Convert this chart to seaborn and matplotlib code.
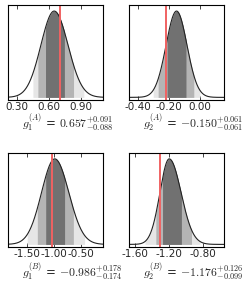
import numpy as np
import pandas as pd
import matplotlib
matplotlib.use("Agg")
import matplotlib.pyplot as plt
import seaborn as sns

# posterior summaries
names = ["g_1^{(A)}", "g_2^{(A)}", "g_1^{(B)}", "g_2^{(B)}"]
medians = [0.657, -0.150, -0.986, -1.176]
err_hi = [0.091, 0.061, 0.178, 0.126]
err_lo = [0.088, 0.061, 0.174, 0.099]
truths = [0.71, -0.22, -1.05, -1.30]
peaks = [0.652, -0.150, -0.990, -1.195]
# widths of the smoothed density curve (left, right)
curve_lo = [0.125, 0.067, 0.245, 0.110]
curve_hi = [0.130, 0.067, 0.260, 0.140]
# credible band edges (1, 2, 3 sigma)
band1 = [(0.569, 0.748), (-0.211, -0.089), (-1.160, -0.808), (-1.275, -1.050)]
band2 = [(0.498, 0.834), (-0.268, -0.039), (-1.313, -0.644), (-1.355, -0.930)]
band3 = [(0.451, 0.932), (-0.300, 0.000), (-1.500, -0.438), (-1.482, -0.832)]
tick_vals = [
    [0.30, 0.60, 0.90],
    [-0.40, -0.20, 0.00],
    [-1.50, -1.00, -0.50],
    [-1.60, -1.20, -0.80],
]

sns.set_style("ticks")
plt.rcParams["font.family"] = ["DejaVu Sans"]
plt.rcParams["mathtext.fontset"] = "cm"

band_colors = ["#e6e6e6", "#b4b4b4", "#717171"]


def split_normal(x, m, lo, hi):
    s = np.where(x < m, lo, hi)
    return np.exp(-0.5 * ((x - m) / s) ** 2)


fig = plt.figure(figsize=(2.49, 2.94), dpi=100)
boxes = [
    [0.032, 0.660, 0.382, 0.323],
    [0.518, 0.660, 0.382, 0.323],
    [0.032, 0.160, 0.382, 0.320],
    [0.518, 0.160, 0.382, 0.320],
]
label_y = [-0.25, -0.25, -0.265, -0.265]

for i in range(4):
    ax = fig.add_axes(boxes[i])
    m, lo, hi = medians[i], err_lo[i], err_hi[i]
    x = np.linspace(m - 5 * lo, m + 5 * hi, 500)
    y = split_normal(x, peaks[i], curve_lo[i], curve_hi[i])
    df = pd.DataFrame({"x": x, "y": y})

    for (a, b), col in zip([band3[i], band2[i], band1[i]], band_colors):
        sel = (x >= a) & (x <= b)
        ax.fill_between(x[sel], 0, y[sel], color=col, lw=0)

    sns.lineplot(data=df, x="x", y="y", ax=ax, color="#222222", lw=0.8)
    ax.axvline(truths[i], color="#f06262", lw=1.4)

    ax.set_xlim(x[0], x[-1])
    ax.set_ylim(-0.03, 1.07)
    ax.set_yticks([])
    ax.set_ylabel("")
    ax.set_xlabel("")
    ax.set_xticks(tick_vals[i])
    ax.set_xticklabels([f"{t:.2f}" for t in tick_vals[i]], fontsize=7.5)
    ax.tick_params(axis="x", direction="in", top=True, length=3, width=0.6, pad=1.5)
    for sp in ax.spines.values():
        sp.set_linewidth(0.8)
        sp.set_color("black")
    label = (rf"${names[i]}$ = ${m:.3f}^{{+{hi:.3f}}}_{{-{lo:.3f}}}$")
    ax.text(0.145, label_y[i], label, transform=ax.transAxes, fontsize=8.5,
            ha="left", va="center")

fig.savefig("out.png", dpi=100)
